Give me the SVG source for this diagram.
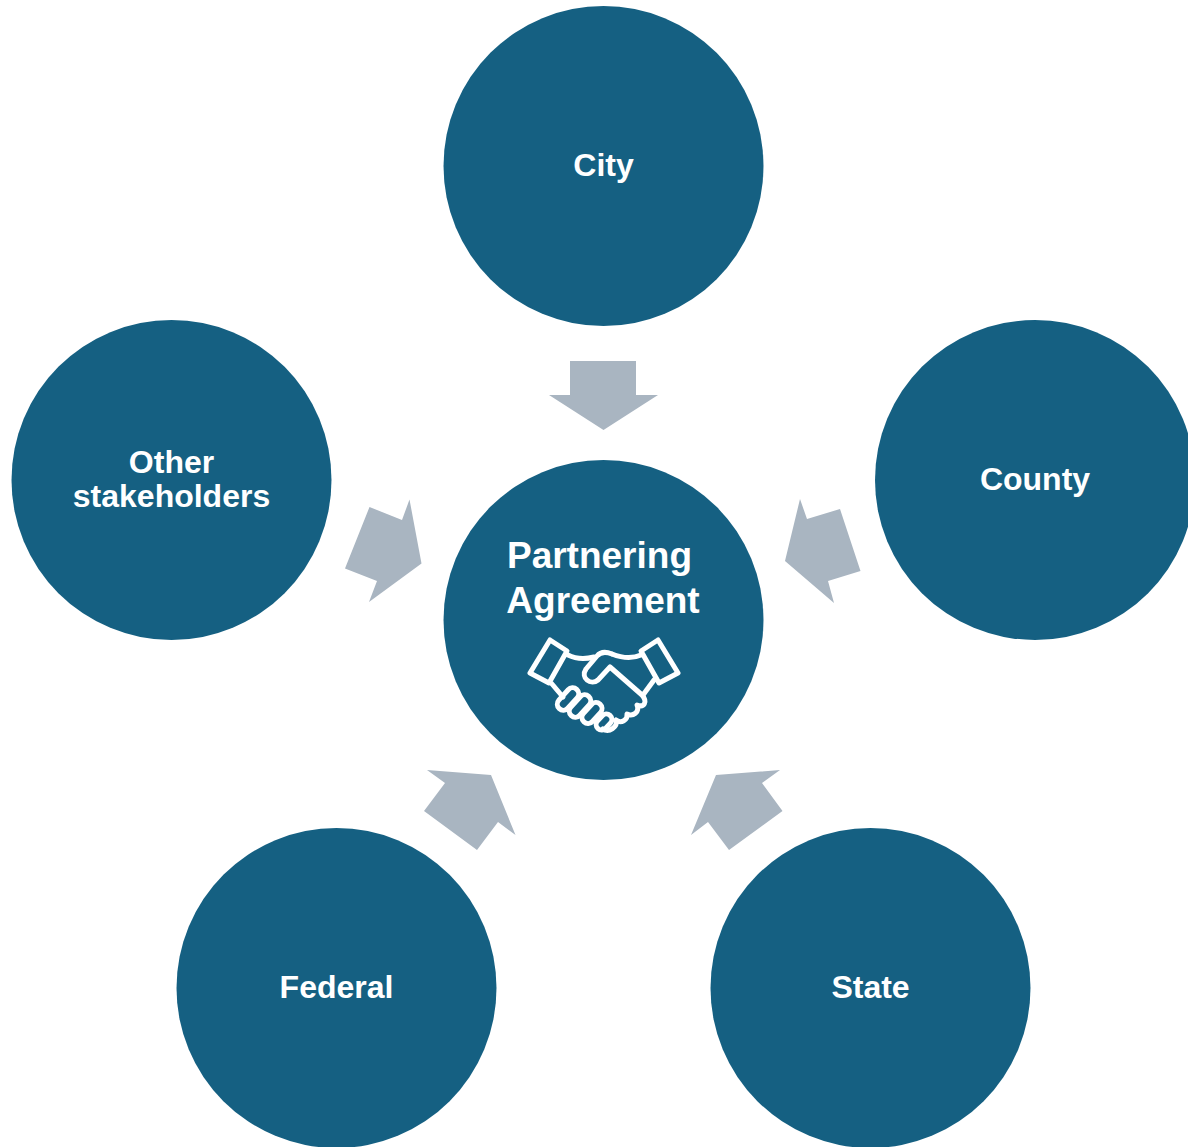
<svg xmlns="http://www.w3.org/2000/svg" width="1188" height="1147" viewBox="0 0 1188 1147">
<style>
.c{fill:#156082}
.a{fill:#a9b5c1}
.t{font-family:"Liberation Sans",Arial,sans-serif;font-weight:700;fill:#fff;text-anchor:middle;font-size:32px}
.b{font-size:37px}
.h{fill:none;stroke:#fff;stroke-width:5;stroke-linejoin:round;stroke-linecap:round}
</style>
<rect width="1188" height="1147" fill="#fff"/>
<g id="connectors">
<polygon class="a" points="570,361 636,361 636,395 658,395 603.5,430 549,395 570,395"/>
<polygon class="a" points="369.500,507 402,520 409.500,499.500 421.500,563.500 369,602 377,581 345,568.500"/>
<polygon class="a" points="800,499 807,519 840,509 860.500,571 828,581 834,603 785,561"/>
<polygon class="a" points="427,770 491,775 515.500,835 498,822 477,850 424,811 445,783"/>
<polygon class="a" points="780,770 716,775 691,835 708,822 729,850 782.500,811 762,783"/>
</g>
<g id="city"><circle class="c" cx="603.500" cy="166" r="160"/><text class="t" x="603.500" y="176">City</text></g>
<g id="county"><circle class="c" cx="1035" cy="480" r="160"/><text class="t" x="1035" y="490">County</text></g>
<g id="other"><circle class="c" cx="171.500" cy="480" r="160"/><text class="t" x="171.500" y="473">Other</text><text class="t" x="171.500" y="507">stakeholders</text></g>
<g id="federal"><circle class="c" cx="336.500" cy="988" r="160"/><text class="t" x="336.500" y="998">Federal</text></g>
<g id="state"><circle class="c" cx="870.500" cy="988" r="160"/><text class="t" x="870.500" y="998">State</text></g>
<g id="partnering"><circle class="c" cx="603.500" cy="620" r="160"/>
<text class="t b" x="599.500" y="568">Partnering</text><text class="t b" x="603" y="613">Agreement</text>
<g class="h">
<path d="M550,640 L567,651 L549,683 L530,673 Z"/>
<path d="M658,640 L641,651 L659,683 L678,673 Z"/>
<path d="M568,655 C576,659 586,659 594,657"/>
<path d="M641,655 C632,659 622,658 612,654"/>
<path d="M612,654 Q602,650 597,656 L586,669 C580,678 591,686 598,680 L610,667 L642,695 C648,702 644,708 637,705 C640,712 633,717 627,714 C628,720 621,724 616,720 C618,727 609,733 603,729"/>
<path d="M654,680 L643,695"/>
<path d="M552,684 L563,697"/>
<rect x="-6" y="-13" width="12" height="26" rx="6" transform="translate(568,699) rotate(42)"/>
<rect x="-6" y="-13" width="12" height="26" rx="6" transform="translate(580,706) rotate(42)"/>
<rect x="-6" y="-12" width="12" height="24" rx="6" transform="translate(592,713) rotate(42)"/>
<rect x="-5.500" y="-9" width="11" height="18" rx="5.500" transform="translate(604,722) rotate(42)"/>
</g>
</g>
</svg>
